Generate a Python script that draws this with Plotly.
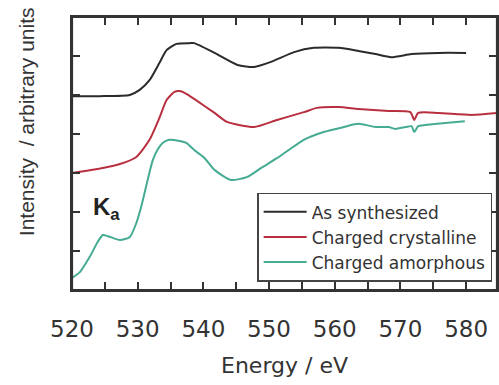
import plotly.graph_objects as go

# ---- data ----
as_syn_x = [520, 524.2, 528.8, 530.3, 531.8, 533.3, 534.4, 535.9, 537.9, 538.6, 541.7, 545.2,
            547.7, 550.3, 553.8, 556.8, 560.6, 563.6, 566.2, 568.6, 571.7, 575.8, 580]
as_syn_y = [4.97, 4.97, 5.0, 5.13, 5.38, 5.82, 6.15, 6.31, 6.33, 6.33, 6.08, 5.77,
            5.72, 5.85, 6.10, 6.21, 6.21, 6.13, 6.05, 5.97, 6.05, 6.08, 6.08]

cryst_x = [520, 524.7, 527.3, 529.8, 531.8, 533.3, 534.4, 535.6, 536.4, 537.4, 538.6, 541.7,
           543.6, 547.7, 551.2, 555.3, 557.3, 560.6, 563.6, 568.2, 571.5, 572.1, 572.7,
           575.8, 580.8, 584.7]
cryst_y = [3.0, 3.13, 3.23, 3.41, 3.85, 4.41, 4.87, 5.08, 5.10, 5.03, 4.90, 4.54,
           4.31, 4.18, 4.36, 4.56, 4.67, 4.69, 4.64, 4.59, 4.56, 4.36, 4.54,
           4.54, 4.49, 4.54]

amorph_x = [520, 521.2, 522.7, 523.9, 524.7, 525.5, 527.3, 528.8, 529.8, 530.6, 531.4, 532.3,
            533.0, 533.8, 534.8, 536.4, 537.4, 538.6, 540.2, 541.7, 544.2, 546.7, 548.8,
            551.2, 555.3, 558.3, 561.4, 563.6, 566.2, 568.2, 569.2, 570.8, 571.7, 572.1,
            572.7, 573.8, 576.8, 579.8]
amorph_y = [0.31, 0.46, 0.85, 1.23, 1.41, 1.38, 1.28, 1.36, 1.72, 2.18, 2.74, 3.33,
            3.59, 3.77, 3.85, 3.82, 3.77, 3.59, 3.38, 3.08, 2.82, 2.90, 3.13,
            3.38, 3.85, 4.05, 4.18, 4.26, 4.18, 4.18, 4.13, 4.18, 4.20, 4.05,
            4.20, 4.23, 4.28, 4.33]

series_names = ["As synthesized", "Charged crystalline", "Charged amorphous"]
x_tick_vals = [520, 525, 530, 535, 540, 545, 550, 555, 560, 565, 570, 575, 580]
x_tick_text = ["520", " ", "530", " ", "540", " ", "550", " ", "560", " ", "570", " ", "580"]
y_tick_vals = [1, 2, 3, 4, 5, 6]

# ---- figure ----
colors = ["#2b2b2b", "#b8303f", "#45ab92"]
fig = go.Figure()
for name, xs, ys, c in zip(series_names, [as_syn_x, cryst_x, amorph_x],
                           [as_syn_y, cryst_y, amorph_y], colors):
    fig.add_trace(go.Scatter(x=xs, y=ys, mode="lines", name=name,
                             line=dict(color=c, width=2, shape="spline", smoothing=0.6)))

axis_col = "#333333"
fig.update_layout(
    width=499, height=385,
    margin=dict(l=72, r=0, t=17, b=95),
    paper_bgcolor="white", plot_bgcolor="white",
    showlegend=True,
    legend=dict(x=0.4356, y=0.356, xanchor="left", yanchor="top",
                bgcolor="white", bordercolor="#444", borderwidth=1.5,
                font=dict(family="DejaVu Sans", size=17, color="#333"),
                tracegroupgap=0, itemwidth=43),
    xaxis=dict(range=[520, 584.7], tickvals=x_tick_vals, ticktext=x_tick_text,
               ticks="inside", ticklen=8, tickwidth=1.5, tickcolor=axis_col,
               showline=True, linecolor=axis_col, linewidth=2.2, mirror="ticks",
               showgrid=False, zeroline=False,
               tickfont=dict(family="DejaVu Sans", size=23, color="#333"),
               ticklabelstandoff=17),
    yaxis=dict(range=[0, 7], tickvals=y_tick_vals, showticklabels=False,
               ticks="inside", ticklen=8, tickwidth=1.5, tickcolor=axis_col,
               showline=True, linecolor=axis_col, linewidth=2.2, mirror="ticks",
               showgrid=False, zeroline=False),
    shapes=[dict(type="rect", xref="paper", yref="paper", x0=0, y0=0, x1=1, y1=1,
                 line=dict(color=axis_col, width=2.2), layer="above")],
    annotations=[
        dict(text="Energy / eV", xref="paper", yref="paper", x=0.5, y=-0.275,
             xanchor="center", yanchor="middle", showarrow=False,
             font=dict(family="DejaVu Sans", size=22, color="#333")),
        dict(text="Intensity  / arbitrary units", xref="paper", yref="paper",
             x=-0.108, y=0.615, xanchor="center", yanchor="middle", textangle=-90,
             showarrow=False,
             font=dict(family="Liberation Sans", size=21, color="#333")),
        dict(text="<b>K<sub>a</sub></b>", xref="x", yref="y", x=525.3, y=2.1,
             xanchor="center", yanchor="middle", showarrow=False,
             font=dict(family="Liberation Sans", size=24, color="#222")),
    ],
)

fig.write_html("out.html", config={"displayModeBar": False},
               post_script="document.body.style.margin='0';")
